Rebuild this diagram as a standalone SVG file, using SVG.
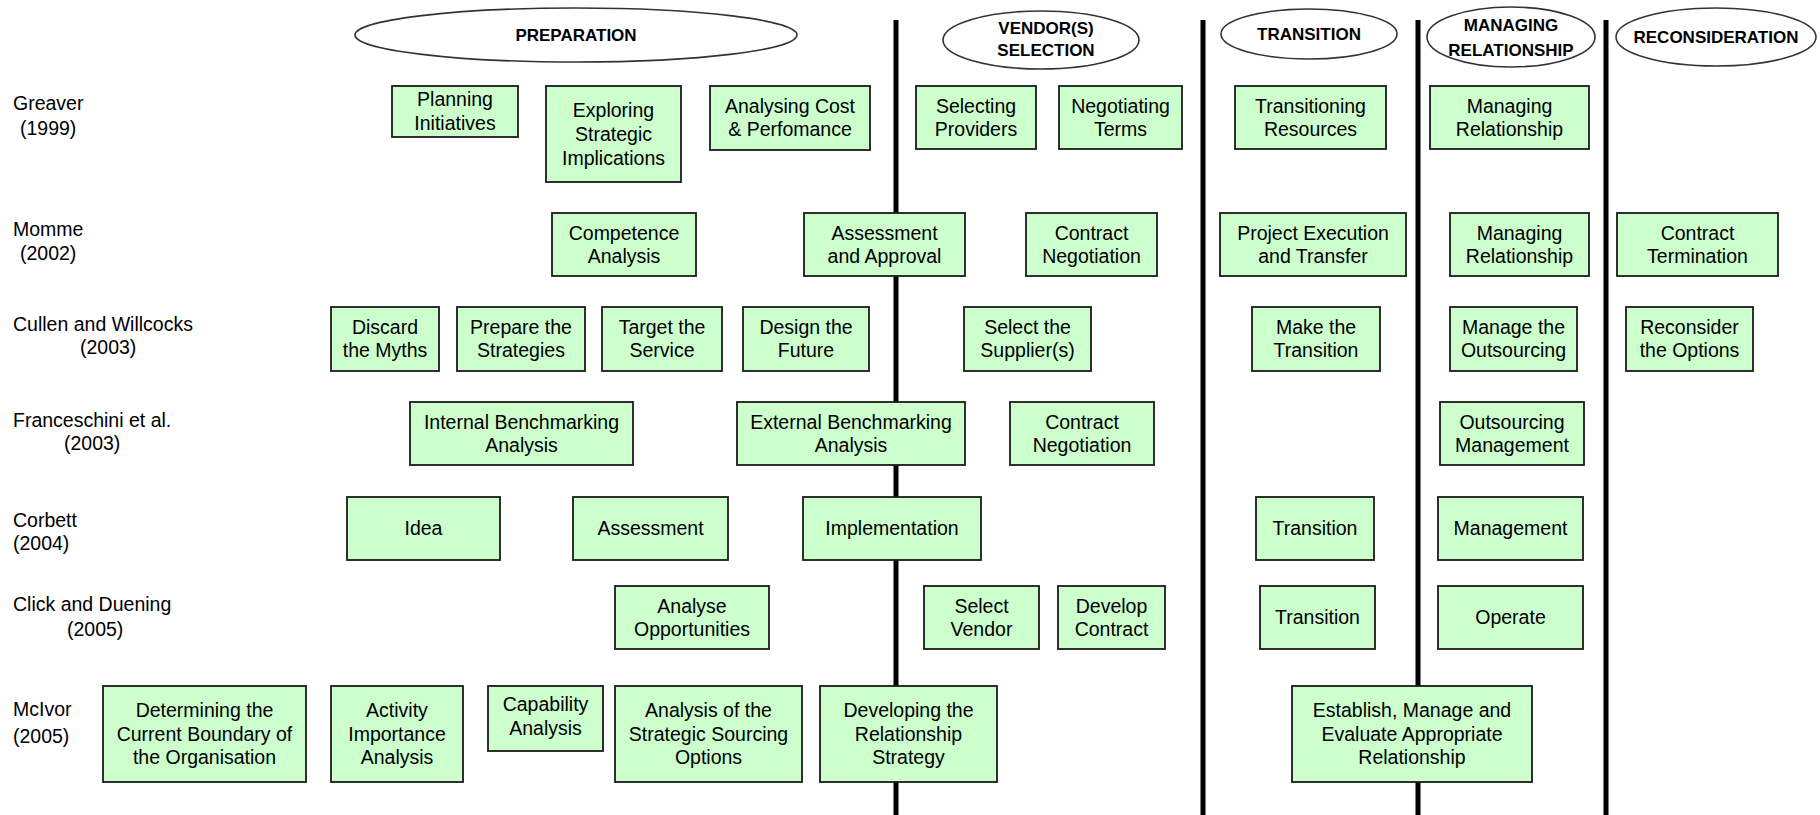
<svg xmlns="http://www.w3.org/2000/svg" width="1820" height="815" viewBox="0 0 1820 815">
<style>
text{font-family:"Liberation Sans",Arial,sans-serif;fill:#000}
.t{font-size:19.5px;text-anchor:middle}
.lbl{font-size:19.5px}
.h{font-size:17px;font-weight:bold;text-anchor:middle}
.box{fill:#ccffcc;stroke:#1a1a1a;stroke-width:1.8}
.ph{fill:#fff;stroke:#333;stroke-width:1.6}
.sep{stroke:#000;stroke-width:5}
</style>
<rect width="1820" height="815" fill="#fff"/>
<g id="separators">
<line class="sep" x1="896" y1="20" x2="896" y2="815"/>
<line class="sep" x1="1203" y1="20" x2="1203" y2="815"/>
<line class="sep" x1="1418" y1="20" x2="1418" y2="815"/>
<line class="sep" x1="1606" y1="20" x2="1606" y2="815"/>
</g>
<g id="phase-preparation"><ellipse class="ph" cx="576" cy="35" rx="221" ry="27"/><text class="h" x="576" y="41">PREPARATION</text></g>
<g id="phase-vendor"><ellipse class="ph" cx="1041" cy="40" rx="98" ry="29"/><text class="h" x="1046" y="34">VENDOR(S)</text><text class="h" x="1046" y="56">SELECTION</text></g>
<g id="phase-transition"><ellipse class="ph" cx="1309" cy="34" rx="88" ry="25"/><text class="h" x="1309" y="40">TRANSITION</text></g>
<g id="phase-managing"><ellipse class="ph" cx="1511" cy="37" rx="84" ry="30"/><text class="h" x="1511" y="31">MANAGING</text><text class="h" x="1511" y="56">RELATIONSHIP</text></g>
<g id="phase-reconsideration"><ellipse class="ph" cx="1716" cy="37" rx="100" ry="29"/><text class="h" x="1716" y="43">RECONSIDERATION</text></g>

<g id="label-greaver"><text class="lbl" x="13" y="110">Greaver</text><text class="lbl" x="20" y="135">(1999)</text></g>
<g id="label-momme"><text class="lbl" x="13" y="236">Momme</text><text class="lbl" x="20" y="260">(2002)</text></g>
<g id="label-cullen"><text class="lbl" x="13" y="331">Cullen and Willcocks</text><text class="lbl" x="80" y="354">(2003)</text></g>
<g id="label-franceschini"><text class="lbl" x="13" y="427">Franceschini et al.</text><text class="lbl" x="64" y="450">(2003)</text></g>
<g id="label-corbett"><text class="lbl" x="13" y="527">Corbett</text><text class="lbl" x="13" y="550">(2004)</text></g>
<g id="label-click"><text class="lbl" x="13" y="611">Click and Duening</text><text class="lbl" x="67" y="636">(2005)</text></g>
<g id="label-mcivor"><text class="lbl" x="13" y="716">McIvor</text><text class="lbl" x="13" y="743">(2005)</text></g>

<!-- Greaver -->
<g id="g1"><rect class="box" x="392" y="86" width="126" height="51"/><text class="t" x="455" y="106">Planning</text><text class="t" x="455" y="130">Initiatives</text></g>
<g id="g2"><rect class="box" x="546" y="86" width="135" height="96"/><text class="t" x="613.5" y="117">Exploring</text><text class="t" x="613.5" y="141">Strategic</text><text class="t" x="613.5" y="164.5">Implications</text></g>
<g id="g3"><rect class="box" x="710" y="86" width="160" height="64"/><text class="t" x="790" y="113">Analysing Cost</text><text class="t" x="790" y="136">&amp; Perfomance</text></g>
<g id="g4"><rect class="box" x="916" y="86" width="120" height="63"/><text class="t" x="976" y="113">Selecting</text><text class="t" x="976" y="136">Providers</text></g>
<g id="g5"><rect class="box" x="1059" y="86" width="123" height="63"/><text class="t" x="1120.5" y="113">Negotiating</text><text class="t" x="1120.5" y="136">Terms</text></g>
<g id="g6"><rect class="box" x="1235" y="86" width="151" height="63"/><text class="t" x="1310.5" y="113">Transitioning</text><text class="t" x="1310.5" y="136">Resources</text></g>
<g id="g7"><rect class="box" x="1430" y="86" width="159" height="63"/><text class="t" x="1509.5" y="113">Managing</text><text class="t" x="1509.5" y="136">Relationship</text></g>

<!-- Momme -->
<g id="m1"><rect class="box" x="552" y="213" width="144" height="63"/><text class="t" x="624" y="240">Competence</text><text class="t" x="624" y="263">Analysis</text></g>
<g id="m2"><rect class="box" x="804" y="213" width="161" height="63"/><text class="t" x="884.5" y="240">Assessment</text><text class="t" x="884.5" y="263">and Approval</text></g>
<g id="m3"><rect class="box" x="1026" y="213" width="131" height="63"/><text class="t" x="1091.5" y="240">Contract</text><text class="t" x="1091.5" y="263">Negotiation</text></g>
<g id="m4"><rect class="box" x="1220" y="213" width="186" height="63"/><text class="t" x="1313" y="240">Project Execution</text><text class="t" x="1313" y="263">and Transfer</text></g>
<g id="m5"><rect class="box" x="1450" y="213" width="139" height="63"/><text class="t" x="1519.5" y="240">Managing</text><text class="t" x="1519.5" y="263">Relationship</text></g>
<g id="m6"><rect class="box" x="1617" y="213" width="161" height="63"/><text class="t" x="1697.5" y="240">Contract</text><text class="t" x="1697.5" y="263">Termination</text></g>

<!-- Cullen and Willcocks -->
<g id="c1"><rect class="box" x="331" y="307" width="108" height="64"/><text class="t" x="385" y="334">Discard</text><text class="t" x="385" y="357">the Myths</text></g>
<g id="c2"><rect class="box" x="457" y="307" width="128" height="64"/><text class="t" x="521" y="334">Prepare the</text><text class="t" x="521" y="357">Strategies</text></g>
<g id="c3"><rect class="box" x="602" y="307" width="120" height="64"/><text class="t" x="662" y="334">Target the</text><text class="t" x="662" y="357">Service</text></g>
<g id="c4"><rect class="box" x="743" y="307" width="126" height="64"/><text class="t" x="806" y="334">Design the</text><text class="t" x="806" y="357">Future</text></g>
<g id="c5"><rect class="box" x="964" y="307" width="127" height="64"/><text class="t" x="1027.5" y="334">Select the</text><text class="t" x="1027.5" y="357">Supplier(s)</text></g>
<g id="c6"><rect class="box" x="1252" y="307" width="128" height="64"/><text class="t" x="1316" y="334">Make the</text><text class="t" x="1316" y="357">Transition</text></g>
<g id="c7"><rect class="box" x="1450" y="307" width="127" height="64"/><text class="t" x="1513.5" y="334">Manage the</text><text class="t" x="1513.5" y="357">Outsourcing</text></g>
<g id="c8"><rect class="box" x="1626" y="307" width="127" height="64"/><text class="t" x="1689.5" y="334">Reconsider</text><text class="t" x="1689.5" y="357">the Options</text></g>

<!-- Franceschini -->
<g id="f1"><rect class="box" x="410" y="402" width="223" height="63"/><text class="t" x="521.5" y="429">Internal Benchmarking</text><text class="t" x="521.5" y="452">Analysis</text></g>
<g id="f2"><rect class="box" x="737" y="402" width="228" height="63"/><text class="t" x="851" y="429">External Benchmarking</text><text class="t" x="851" y="452">Analysis</text></g>
<g id="f3"><rect class="box" x="1010" y="402" width="144" height="63"/><text class="t" x="1082" y="429">Contract</text><text class="t" x="1082" y="452">Negotiation</text></g>
<g id="f4"><rect class="box" x="1440" y="402" width="144" height="63"/><text class="t" x="1512" y="429">Outsourcing</text><text class="t" x="1512" y="452">Management</text></g>

<!-- Corbett -->
<g id="k1"><rect class="box" x="347" y="497" width="153" height="63"/><text class="t" x="423.5" y="535">Idea</text></g>
<g id="k2"><rect class="box" x="573" y="497" width="155" height="63"/><text class="t" x="650.5" y="535">Assessment</text></g>
<g id="k3"><rect class="box" x="803" y="497" width="178" height="63"/><text class="t" x="892" y="535">Implementation</text></g>
<g id="k4"><rect class="box" x="1256" y="497" width="118" height="63"/><text class="t" x="1315" y="535">Transition</text></g>
<g id="k5"><rect class="box" x="1438" y="497" width="145" height="63"/><text class="t" x="1510.5" y="535">Management</text></g>

<!-- Click and Duening -->
<g id="d1"><rect class="box" x="615" y="586" width="154" height="63"/><text class="t" x="692" y="613">Analyse</text><text class="t" x="692" y="636">Opportunities</text></g>
<g id="d2"><rect class="box" x="924" y="586" width="115" height="63"/><text class="t" x="981.5" y="613">Select</text><text class="t" x="981.5" y="636">Vendor</text></g>
<g id="d3"><rect class="box" x="1058" y="586" width="107" height="63"/><text class="t" x="1111.5" y="613">Develop</text><text class="t" x="1111.5" y="636">Contract</text></g>
<g id="d4"><rect class="box" x="1260" y="586" width="115" height="63"/><text class="t" x="1317.5" y="624">Transition</text></g>
<g id="d5"><rect class="box" x="1438" y="586" width="145" height="63"/><text class="t" x="1510.5" y="624">Operate</text></g>

<!-- McIvor -->
<g id="v1"><rect class="box" x="103" y="686" width="203" height="96"/><text class="t" x="204.5" y="717">Determining the</text><text class="t" x="204.5" y="740.5">Current Boundary of</text><text class="t" x="204.5" y="764">the Organisation</text></g>
<g id="v2"><rect class="box" x="331" y="686" width="132" height="96"/><text class="t" x="397" y="717">Activity</text><text class="t" x="397" y="740.5">Importance</text><text class="t" x="397" y="764">Analysis</text></g>
<g id="v3"><rect class="box" x="488" y="686" width="115" height="65"/><text class="t" x="545.5" y="711">Capability</text><text class="t" x="545.5" y="735">Analysis</text></g>
<g id="v4"><rect class="box" x="615" y="686" width="187" height="96"/><text class="t" x="708.5" y="717">Analysis of the</text><text class="t" x="708.5" y="740.5">Strategic Sourcing</text><text class="t" x="708.5" y="764">Options</text></g>
<g id="v5"><rect class="box" x="820" y="686" width="177" height="96"/><text class="t" x="908.5" y="717">Developing the</text><text class="t" x="908.5" y="740.5">Relationship</text><text class="t" x="908.5" y="764">Strategy</text></g>
<g id="v6"><rect class="box" x="1292" y="686" width="240" height="96"/><text class="t" x="1412" y="717">Establish, Manage and</text><text class="t" x="1412" y="740.5">Evaluate Appropriate</text><text class="t" x="1412" y="764">Relationship</text></g>
</svg>
